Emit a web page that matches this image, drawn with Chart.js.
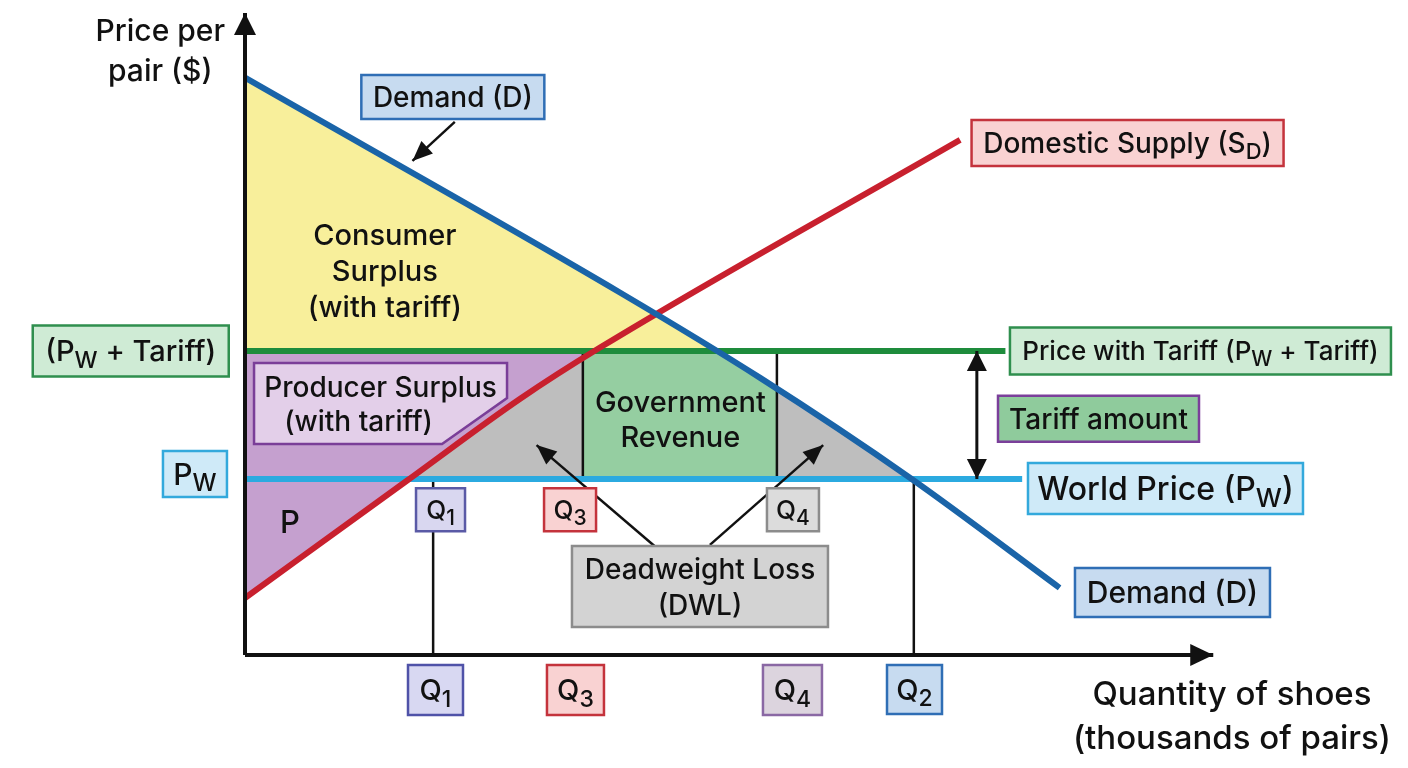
<!DOCTYPE html>
<html>
<head>
<meta charset="utf-8">
<script src="https://cdn.jsdelivr.net/npm/chart.js@4.4.1/dist/chart.umd.min.js"></script>
<style>
html, body { margin: 0; padding: 0; background: #fff; }
#wrap { width: 1408px; height: 768px; }
</style>
</head>
<body>
<div id="wrap"><canvas id="tariffChart" width="1408" height="768"></canvas></div>
<script>
// curves (no numbers on the axes, so arbitrary 0-100 units)
let demandQ = [0, 38.1, 52.3, 67.5, 82.7];
let demandP = [90.2, 56.6, 43.3, 27.7, 10.5];
let supplyQ = [0, 16.5, 27.9, 36.0, 72.6];
let supplyP = [8.9, 27.3, 40.0, 48.0, 80.5];

let priceWorld = 27.5;
let priceTariff = 47.5;
let tariffLineEnd = 77.2;
let worldLineEnd = 78.9;

let qNames = ['Q_{1}', 'Q_{3}', 'Q_{4}', 'Q_{2}'];
let qValues = [19.1, 34.3, 54.0, 67.9];

// --- helpers on a polyline ---
function yOn(qs, ps, x) {
  for (let i = 0; i < qs.length - 1; i++) {
    if (x >= qs[i] && x <= qs[i + 1]) {
      let t = (x - qs[i]) / (qs[i + 1] - qs[i]);
      return ps[i] + t * (ps[i + 1] - ps[i]);
    }
  }
  return null;
}
function xOn(qs, ps, y) {
  for (let i = 0; i < qs.length - 1; i++) {
    let a = ps[i], b = ps[i + 1];
    if ((y - a) * (y - b) <= 0 && a !== b) {
      let t = (y - a) / (b - a);
      return qs[i] + t * (qs[i + 1] - qs[i]);
    }
  }
  return null;
}
function piece(qs, ps, x0, x1) {
  let out = [{x: x0, y: yOn(qs, ps, x0)}];
  for (let i = 0; i < qs.length; i++) {
    if (qs[i] > x0 && qs[i] < x1) out.push({x: qs[i], y: ps[i]});
  }
  out.push({x: x1, y: yOn(qs, ps, x1)});
  return out;
}
function pts(qs, ps) { return qs.map((q, i) => ({x: q, y: ps[i]})); }

let q1 = qValues[0], q3 = qValues[1], q4 = qValues[2], q2 = qValues[3];
let dAtTariff = xOn(demandQ, demandP, priceTariff);
let dAtWorld = xOn(demandQ, demandP, priceWorld);
let sAtTariff = xOn(supplyQ, supplyP, priceTariff);
let sAtWorld = xOn(supplyQ, supplyP, priceWorld);

// left deadweight triangle: right of supply, left of Q3
let dwlLeft = piece(supplyQ, supplyP, sAtWorld, Math.min(q3, sAtTariff));
if (sAtTariff < q3) dwlLeft.push({x: q3, y: priceTariff});

function curve(data, color, width, head) {
  return {data: data, borderColor: color, borderWidth: width, pointRadius: 0,
          fill: false, tension: 0, clip: false, head: head || null};
}
function smooth(data, color) {
  let ds = curve(data, color, 6);
  ds.cubicInterpolationMode = 'monotone';
  return ds;
}
function area(data, color, level) {
  return {data: data, borderColor: 'transparent', borderWidth: 0, pointRadius: 0,
          backgroundColor: color, fill: {value: level}, tension: 0, clip: false};
}

let datasets = [
  // axes
  curve([{x: 0, y: 0}, {x: 0, y: 100.3}], '#111', 4, {end: true, len: 22, wid: 22}),
  curve([{x: 0, y: 0}, {x: 98.3, y: 0}], '#111', 4, {end: true, len: 23, wid: 22}),
  // pointer arrows
  curve([{x: 21.3, y: 83.3}, {x: 17.0, y: 77.2}], '#111', 2.5, {end: true, len: 20, wid: 17}),
  curve([{x: 41.6, y: 17.0}, {x: 29.6, y: 32.8}], '#111', 2.5, {end: true, len: 20, wid: 17}),
  curve([{x: 47.2, y: 17.2}, {x: 58.7, y: 32.8}], '#111', 2.5, {end: true, len: 20, wid: 17}),
  curve([{x: 74.3, y: priceTariff}, {x: 74.3, y: priceWorld}], '#111', 3, {start: true, end: true, len: 20, wid: 20}),
  // demand and supply
  smooth(pts(demandQ, demandP), '#1A64A8'),
  smooth(pts(supplyQ, supplyP), '#C8202E'),
  // price lines
  curve([{x: 0, y: priceTariff}, {x: tariffLineEnd, y: priceTariff}], '#1E8C3C', 6),
  curve([{x: 0, y: priceWorld}, {x: worldLineEnd, y: priceWorld}], '#2BAAE0', 6),
  // quantity drop lines
  curve([{x: q1, y: 0}, {x: q1, y: priceWorld}], '#111', 2.5),
  curve([{x: q2, y: 0}, {x: q2, y: priceWorld}], '#111', 2.5),
  curve([{x: q3, y: priceWorld}, {x: q3, y: priceTariff}], '#111', 2.5),
  curve([{x: q4, y: priceWorld}, {x: q4, y: priceTariff}], '#111', 2.5),
  // shaded areas
  area(piece(demandQ, demandP, 0, dAtTariff), '#F8EF9B', priceTariff),
  area(piece(supplyQ, supplyP, 0, sAtTariff), '#C5A0CF', priceTariff),
  area(dwlLeft, '#BEBEBE', priceWorld),
  area([{x: q3, y: priceTariff}].concat(piece(demandQ, demandP, dAtTariff, q4)), '#95CEA1', priceWorld),
  area(piece(demandQ, demandP, q4, dAtWorld), '#BEBEBE', priceWorld)
];

// --- label boxes ---
let blueBox = {fill: '#C7DBF0', stroke: '#2F6EB5'};
let pinkBox = {fill: '#F9D2D2', stroke: '#C4333C'};
let greenBox = {fill: '#CFEBD5', stroke: '#2F8F4E'};
let skyBox = {fill: '#CFEAF8', stroke: '#33A9DC'};
let greyBox = {fill: '#D3D3D3', stroke: '#8C8C8C'};

// fit: horizontal padding; the font is sized so the widest line fills the box
let labels = [
  {lines: ['Price per', 'pair ($)'], x: -8.6, y: 94.5, size: 30, lh: 40},
  Object.assign({lines: ['Demand (D)'], x: 21.1, y: 87.2, w: 183, h: 44, fit: 10}, blueBox),
  Object.assign({lines: ['Domestic Supply (S_{D})'], x: 89.6, y: 80.0, w: 312, h: 46, fit: 10}, pinkBox),
  {lines: ['Consumer', 'Surplus', '(with tariff)'], x: 14.2, y: 60.0, size: 29, lh: 36},
  Object.assign({lines: ['(P_{W} + Tariff)'], x: -11.6, y: 47.5, w: 196, h: 51, fit: 10}, greenBox),
  Object.assign({lines: ['Price with Tariff (P_{W} + Tariff)'], x: 97.0, y: 47.5, w: 381, h: 47, fit: 9}, greenBox),
  {lines: ['Producer Surplus', '(with tariff)'], dx: [0, -22], x: 13.76, y: 39.3, w: 253, h: 81, fit: 9, lh: 34,
   fill: '#E3CFE9', stroke: '#7A3E98', cut: {top: 35, left: 65}},
  {lines: ['Government', 'Revenue'], x: 44.2, y: 36.8, size: 29, lh: 35},
  {lines: ['Tariff amount'], x: 86.65, y: 36.9, w: 201, h: 46, fit: 10, fill: '#8FCB9C', stroke: '#7B3F9A'},
  Object.assign({lines: ['P_{W}'], x: -5.08, y: 28.3, w: 64, h: 46, fit: 10}, skyBox),
  Object.assign({lines: ['World Price (P_{W})'], x: 93.45, y: 26.0, w: 275, h: 51, fit: 9}, skyBox),
  {lines: ['P'], x: 4.57, y: 20.8, size: 31},
  {lines: [qNames[0]], x: 19.85, y: 22.7, w: 49, h: 43, size: 26, fill: '#D9D7F0', stroke: '#5A5AA6'},
  Object.assign({lines: [qNames[1]], x: 33.0, y: 22.7, w: 52, h: 43, size: 26}, pinkBox),
  {lines: [qNames[2]], x: 55.63, y: 22.7, w: 52, h: 43, size: 26, fill: '#DCDCDC', stroke: '#8C8C8C'},
  Object.assign({lines: ['Deadweight Loss', '(DWL)'], x: 46.19, y: 10.7, w: 256, h: 81, fit: 10, lh: 36}, greyBox),
  Object.assign({lines: ['Demand (D)'], x: 94.16, y: 9.77, w: 195, h: 49, fit: 11}, blueBox),
  {lines: [qNames[0]], x: 19.34, y: -5.47, w: 55, h: 50, size: 29, fill: '#D8D8F2', stroke: '#4F52A8'},
  Object.assign({lines: [qNames[1]], x: 33.55, y: -5.47, w: 57, h: 50, size: 29}, pinkBox),
  {lines: [qNames[2]], x: 55.58, y: -5.47, w: 59, h: 50, size: 29, fill: '#DCD4DE', stroke: '#8A68A4'},
  Object.assign({lines: [qNames[3]], x: 67.97, y: -5.39, w: 55, h: 49, size: 29}, blueBox),
  {lines: ['Quantity of shoes', '(thousands of pairs)'], x: 100.2, y: -9.375, size: 33, lh: 44}
];

const FONT = 'Inter, Roboto, sans-serif';
const WEIGHT = 500;

function richParts(s) {
  return s.split(/(_\{[^}]*\})/).filter(Boolean).map(p =>
    p.startsWith('_{') ? {t: p.slice(2, -1), sub: true} : {t: p, sub: false});
}
function fontOf(p, size) {
  return WEIGHT + ' ' + (p.sub ? Math.round(size * 0.8) : size) + 'px ' + FONT;
}
function richWidth(ctx, s, size) {
  let w = 0;
  richParts(s).forEach(p => { ctx.font = fontOf(p, size); w += ctx.measureText(p.t).width; });
  return w;
}
function drawRich(ctx, s, cx, cy, size) {
  let parts = richParts(s);
  let x = cx - richWidth(ctx, s, size) / 2;
  let base = cy + size * 0.36;
  ctx.textAlign = 'left';
  ctx.textBaseline = 'alphabetic';
  parts.forEach(p => {
    ctx.font = fontOf(p, size);
    ctx.fillText(p.t, x, p.sub ? base + size * 0.22 : base);
    x += ctx.measureText(p.t).width;
  });
}

const arrowHeads = {
  id: 'arrowHeads',
  afterDatasetsDraw(chart) {
    let ctx = chart.ctx;
    chart.data.datasets.forEach((ds, i) => {
      if (!ds.head) return;
      let el = chart.getDatasetMeta(i).data;
      let n = el.length;
      if (ds.head.end) tip(ctx, el[n - 2], el[n - 1], ds.head, ds.borderColor);
      if (ds.head.start) tip(ctx, el[1], el[0], ds.head, ds.borderColor);
    });
  }
};
function tip(ctx, a, b, h, color) {
  let ang = Math.atan2(b.y - a.y, b.x - a.x);
  ctx.save();
  ctx.translate(b.x, b.y);
  ctx.rotate(ang);
  ctx.beginPath();
  ctx.moveTo(0, 0);
  ctx.lineTo(-h.len, -h.wid / 2);
  ctx.lineTo(-h.len, h.wid / 2);
  ctx.closePath();
  ctx.fillStyle = color;
  ctx.fill();
  ctx.restore();
}

const textBoxes = {
  id: 'textBoxes',
  afterDatasetsDraw(chart) {
    let ctx = chart.ctx, xs = chart.scales.x, ys = chart.scales.y;
    labels.forEach(l => {
      let cx = xs.getPixelForValue(l.x), cy = ys.getPixelForValue(l.y);
      ctx.save();
      let size = l.size;
      if (l.fit) {
        let widest = Math.max.apply(null, l.lines.map(s => richWidth(ctx, s, 100)));
        size = Math.floor(100 * (l.w - 2 * l.fit) / widest);
      }
      if (l.w) {
        let L = cx - l.w / 2, T = cy - l.h / 2, R = cx + l.w / 2, B = cy + l.h / 2;
        ctx.beginPath();
        if (l.cut) {
          ctx.moveTo(L, T); ctx.lineTo(R, T); ctx.lineTo(R, T + l.cut.top);
          ctx.lineTo(R - l.cut.left, B); ctx.lineTo(L, B); ctx.closePath();
        } else {
          ctx.rect(L, T, l.w, l.h);
        }
        ctx.fillStyle = l.fill;
        ctx.fill();
        ctx.lineWidth = 2.5;
        ctx.strokeStyle = l.stroke;
        ctx.stroke();
      }
      ctx.fillStyle = '#111';
      let lh = l.lh || size;
      let y0 = cy - (l.lines.length - 1) * lh / 2;
      l.lines.forEach((s, k) => drawRich(ctx, s, cx + (l.dx ? l.dx[k] : 0), y0 + k * lh, size));
      ctx.restore();
    });
  }
};

new Chart(document.getElementById('tariffChart'), {
  type: 'line',
  data: {datasets: datasets},
  options: {
    responsive: false,
    animation: false,
    devicePixelRatio: 1,
    layout: {padding: {left: 245, right: 178, top: 15, bottom: 113}},
    scales: {
      x: {type: 'linear', min: 0, max: 100, display: false},
      y: {type: 'linear', min: 0, max: 100, display: false}
    },
    plugins: {legend: {display: false}, tooltip: {enabled: false}},
    elements: {line: {borderCapStyle: 'butt'}}
  },
  plugins: [arrowHeads, textBoxes]
});
</script>
</body>
</html>
